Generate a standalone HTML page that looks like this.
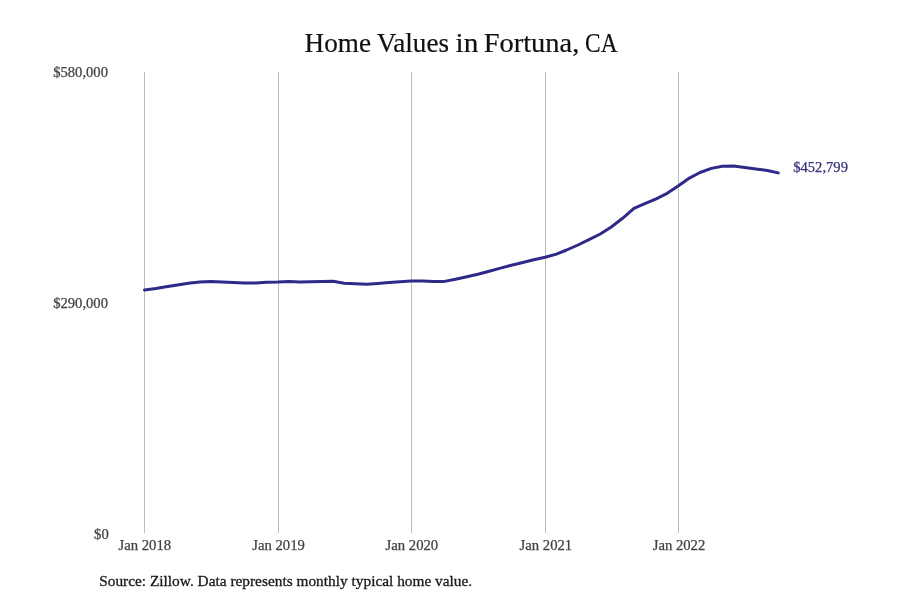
<!DOCTYPE html>
<html><head><meta charset="utf-8"><style>
html{background:#fff}body{margin:0;padding:0;background:transparent;width:900px;height:600px;overflow:hidden}
svg{display:block;will-change:transform}
text{font-family:"Liberation Serif",serif}
</style></head><body>
<svg width="900" height="600" viewBox="0 0 900 600">

<g font-size="27" fill="#111" stroke="#111" stroke-width="0.2"><text x="304.6" y="52" textLength="66.4" lengthAdjust="spacingAndGlyphs">Home</text><text x="376.7" y="52" textLength="72.3" lengthAdjust="spacingAndGlyphs">Values</text><text x="455.6" y="52" textLength="22.8" lengthAdjust="spacingAndGlyphs">in</text><text x="483.7" y="52" textLength="95.6" lengthAdjust="spacingAndGlyphs">Fortuna,</text><text x="585.1" y="52" textLength="32.5" lengthAdjust="spacingAndGlyphs">CA</text></g>
<g stroke="#bdbdbd" stroke-width="1"><line x1="144.5" y1="72" x2="144.5" y2="533"/><line x1="278.5" y1="72" x2="278.5" y2="533"/><line x1="411.5" y1="72" x2="411.5" y2="533"/><line x1="545.5" y1="72" x2="545.5" y2="533"/><line x1="678.5" y1="72" x2="678.5" y2="533"/></g>
<g font-size="14" fill="#424242" stroke="#424242" stroke-width="0.25">
<text x="53.2" y="76.7" textLength="54.8" lengthAdjust="spacingAndGlyphs">$580,000</text>
<text x="53.2" y="307.6" textLength="54.8" lengthAdjust="spacingAndGlyphs">$290,000</text>
<text x="94.1" y="538.7" textLength="14.6" lengthAdjust="spacingAndGlyphs">$0</text>
</g>
<g font-size="14" fill="#424242" stroke="#424242" stroke-width="0.25"><text x="118.5" y="549.6" textLength="52.6" lengthAdjust="spacingAndGlyphs">Jan 2018</text><text x="252.3" y="549.6" textLength="52.6" lengthAdjust="spacingAndGlyphs">Jan 2019</text><text x="385.6" y="549.6" textLength="52.6" lengthAdjust="spacingAndGlyphs">Jan 2020</text><text x="519.6" y="549.6" textLength="52.6" lengthAdjust="spacingAndGlyphs">Jan 2021</text><text x="652.7" y="549.6" textLength="52.6" lengthAdjust="spacingAndGlyphs">Jan 2022</text></g>
<path d="M144.50 290.05 L155.83 288.55 L166.06 286.80 L177.40 284.90 L188.36 283.30 L199.69 282.10 L210.66 281.60 L221.99 282.10 L233.32 282.55 L244.28 282.90 L255.61 282.90 L266.58 282.15 L277.91 282.00 L289.24 281.50 L299.47 282.10 L310.80 281.75 L321.77 281.60 L333.10 281.20 L344.06 283.20 L355.39 283.80 L366.73 284.20 L377.69 283.50 L389.02 282.60 L399.99 281.75 L411.32 281.00 L422.65 280.90 L433.25 281.40 L444.58 281.40 L455.54 279.30 L466.87 276.80 L477.84 274.30 L489.17 271.20 L500.50 268.10 L511.46 265.20 L522.80 262.50 L533.76 259.70 L545.09 257.30 L556.42 254.10 L566.66 250.00 L577.99 245.00 L588.95 239.70 L600.28 234.00 L611.25 227.00 L622.58 218.30 L633.91 208.40 L644.87 203.60 L656.20 198.80 L667.17 193.30 L678.50 185.80 L689.83 177.80 L700.07 172.50 L711.39 168.40 L722.36 166.30 L733.69 166.00 L744.66 167.60 L755.99 169.00 L767.32 170.50 L778.28 172.90" fill="none" stroke="#2e2a88" stroke-width="3" stroke-linecap="round" stroke-linejoin="round"/>
<text x="793.2" y="171.5" font-size="14" fill="#34337a" stroke="#34337a" stroke-width="0.25" textLength="54.8" lengthAdjust="spacingAndGlyphs">$452,799</text>
<text x="99.2" y="585.9" font-size="15" fill="#1a1a1a" stroke="#1a1a1a" stroke-width="0.3" textLength="373" lengthAdjust="spacingAndGlyphs">Source: Zillow. Data represents monthly typical home value.</text>
</svg>
</body></html>
